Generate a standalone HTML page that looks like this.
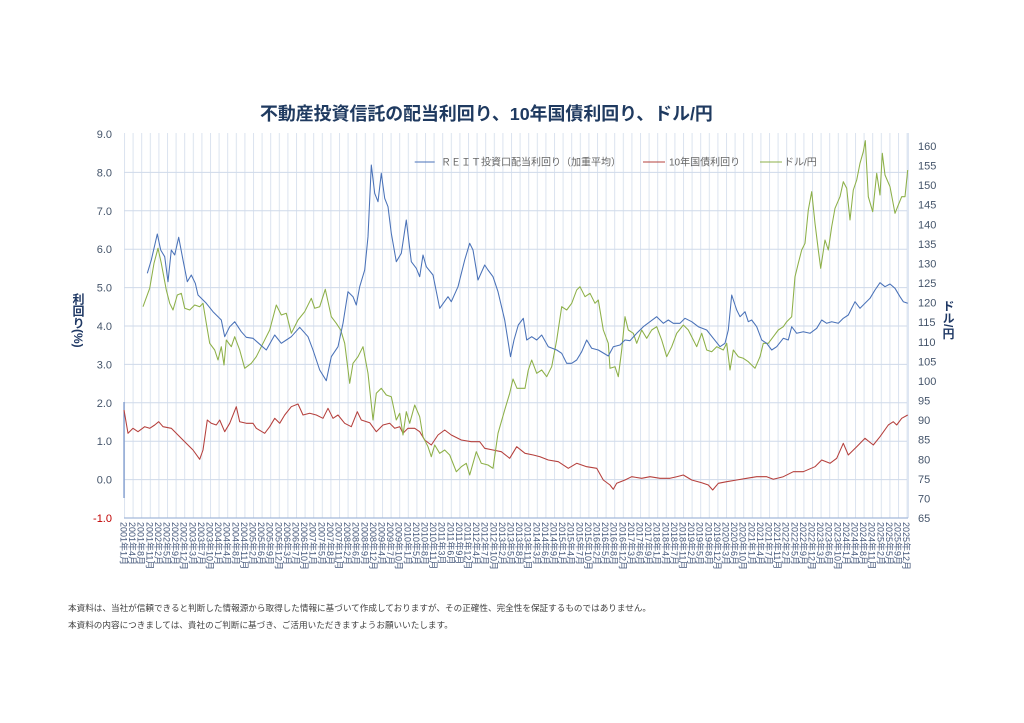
<!DOCTYPE html>
<html><head><meta charset="utf-8">
<style>
html,body{margin:0;padding:0;background:#fff;}
body{width:1024px;height:723px;overflow:hidden;position:relative;font-family:"Liberation Sans","Noto Sans CJK JP",sans-serif;}
svg{position:absolute;left:0;top:0;}
.vt{position:absolute;writing-mode:vertical-rl;font-weight:bold;color:#1f3864;font-size:12px;line-height:12px;font-family:"Liberation Sans","Noto Sans CJK JP",sans-serif;}
</style></head>
<body>
<svg width="1024" height="723" viewBox="0 0 1024 723" xmlns="http://www.w3.org/2000/svg" font-family="Liberation Sans, Noto Sans CJK JP, sans-serif">
<defs>
<pattern id="vg" x="124" y="0" width="8.6" height="10" patternUnits="userSpaceOnUse">
<rect x="0" y="0" width="1" height="10" fill="#dbe3ef"/>
</pattern>
</defs>
<rect width="1024" height="723" fill="#fff"/>
<text x="260" y="120" font-size="17.9" font-weight="bold" fill="#1f3a60">不動産投資信託の配当利回り、10年国債利回り、ドル/円</text>

<rect x="124" y="133" width="783" height="385" fill="url(#vg)"/>
<g stroke="#cfdaea" stroke-width="1">
<line x1="124" y1="172.4" x2="907" y2="172.4"/>
<line x1="124" y1="210.8" x2="907" y2="210.8"/>
<line x1="124" y1="249.2" x2="907" y2="249.2"/>
<line x1="124" y1="287.6" x2="907" y2="287.6"/>
<line x1="124" y1="326" x2="907" y2="326"/>
<line x1="124" y1="364.4" x2="907" y2="364.4"/>
<line x1="124" y1="402.8" x2="907" y2="402.8"/>
<line x1="124" y1="441.2" x2="907" y2="441.2"/>
<line x1="124" y1="479.6" x2="907" y2="479.6"/>
</g>
<line x1="908" y1="133" x2="908" y2="518" stroke="#bccce5" stroke-width="1"/>
<line x1="124" y1="518" x2="908" y2="518" stroke="#a3b9da" stroke-width="1.2"/>
<line x1="124" y1="402" x2="124" y2="498" stroke="#5b7fc0" stroke-width="1"/>

<g font-size="11" fill="#44546a" text-anchor="end">
<text x="112" y="138">9.0</text>
<text x="112" y="176.4">8.0</text>
<text x="112" y="214.8">7.0</text>
<text x="112" y="253.2">6.0</text>
<text x="112" y="291.6">5.0</text>
<text x="112" y="330">4.0</text>
<text x="112" y="368.4">3.0</text>
<text x="112" y="406.8">2.0</text>
<text x="112" y="445.2">1.0</text>
<text x="112" y="483.6">0.0</text>
<text x="112" y="522" fill="#c00000">-1.0</text>
</g>
<g font-size="11" fill="#44546a">
<text x="918" y="150">160</text>
<text x="918" y="169.6">155</text>
<text x="918" y="189.2">150</text>
<text x="918" y="208.7">145</text>
<text x="918" y="228.3">140</text>
<text x="918" y="247.9">135</text>
<text x="918" y="267.5">130</text>
<text x="918" y="287.1">125</text>
<text x="918" y="306.6">120</text>
<text x="918" y="326.2">115</text>
<text x="918" y="345.8">110</text>
<text x="918" y="365.4">105</text>
<text x="918" y="385">100</text>
<text x="918" y="404.5">95</text>
<text x="918" y="424.1">90</text>
<text x="918" y="443.7">85</text>
<text x="918" y="463.3">80</text>
<text x="918" y="482.9">75</text>
<text x="918" y="502.4">70</text>
<text x="918" y="522">65</text>
</g>

<!-- series -->
<polyline fill="none" stroke="#b5403d" stroke-width="1.05" stroke-linejoin="round" points="124,410 128,433.3 133,428.3 138,431.7 144.7,426.7 149.7,428.3 154.7,425 158.7,421.7 163,426.7 171.3,428.3 178,435 184.7,441.7 193,450 199.7,459.3 203,450 207.3,420 211.3,423.3 216.3,425 219.7,420 224.7,431.7 229.7,423.3 236.3,406.7 239.7,421.7 246.3,423.3 253,423.3 256.3,428.3 264.7,433.3 269.7,426.7 274.7,418.3 279.7,423.3 284.7,415 291.3,406.7 298,404 303,415 309.7,413.3 316.3,415 323,418.3 328,408.3 333,418.3 338,415 344.7,423.3 351.3,426.7 357.3,411.7 361.3,420 369.7,422.7 376.3,431.7 383,425 389.7,423.3 394.7,428.3 399.7,426.7 403,433.3 408,428.3 414.7,428.3 419.7,431.7 424.7,440 431.3,445 438,435 444.7,430 451.3,435 461.3,440 471.3,441.7 479.7,441.7 484.7,448.3 493,450 501.3,451.7 509.7,458.3 516.7,446.7 525,453.3 533.3,455 540,456.7 548.3,460 558.3,461.7 568.3,468.3 576.7,463.3 586.7,466.7 596.7,468.3 603.3,480 610,485 613.3,489.3 616.7,483.3 625,480 631.7,476.7 641.7,478.3 650,476.7 660,478.3 670,478.3 676.7,476.7 683.3,475 691.7,480 701.7,482.7 708.3,485 712.7,490 718.3,483.3 726.7,481.7 736.7,480 746.7,478.3 756.7,476.7 766.7,476.7 773.3,479.3 783.3,476.7 793.3,471.7 803.3,471.7 815,466.7 821.7,460 830,463.3 836.7,458.3 843.3,443.3 848.3,455 856.7,446.7 865,438.3 873.3,445 880,436.7 888.3,425 893.3,421.7 896.7,425 901.7,418.3 907.7,415"/>

<polyline fill="none" stroke="#8db048" stroke-width="1.05" stroke-linejoin="round" points="143,306.7 149.7,288.3 154,263.3 158,248.3 161.3,263.3 166.3,290 169.7,303.3 173,310 177.3,295 181.3,293.3 184.7,308.3 189.7,310 194.7,305 199.7,306.7 203,303.3 206.3,323.3 209.7,343.3 214.7,350 218,360 221.3,346.7 224,365 226.3,340 231.3,346.7 234.7,336.7 239.7,350 244.7,368.3 251.3,363.3 256.3,356.7 263,343.3 269.7,330 276.3,305 281.3,315 286.3,313.3 291.3,333.3 298,320 304.7,311.7 311.3,298.3 314.7,308.3 319.7,306.7 325.3,289.3 331.3,316.7 336.3,323.3 340.7,330 344.7,343.3 349.7,383.3 353,363.3 358,356.7 363,346.7 368,373.3 373,420 376.3,393.3 381.3,388.3 386.3,395 391.3,396.7 396.3,420 399.7,413.3 403,435 406.3,411.7 409.7,423.3 414.7,405 419.7,416.7 423,436.7 428,446.7 431.3,456.7 434.7,445 439.7,453.3 444.7,450 449.7,455 456.3,471.7 461.3,466.7 466.3,463.3 469.7,475 476.3,451.7 481.3,463.3 488,465 493,468.3 498,433.3 504.7,410 509.7,393.3 513,379 517,388.3 525,388.3 528.3,370 531.7,360 536.7,373.3 541.7,370 546.7,376.7 551.7,366.7 556.7,340 561.7,306.7 566.7,310 571.7,303.3 576.7,290 580,286.7 585,296.7 590,293.3 595,303.3 598.3,300 603.3,330 608.3,343.3 610,368.3 615,366.7 618.3,376.7 621.7,350 625,316.7 628.3,330 633.3,333.3 636.7,343.3 641.7,330 646.7,338.3 651.7,330 656.7,326.7 661.7,340 666.7,356.7 671.7,346.7 676.7,333.3 683.3,325 688.3,330 691.7,336.7 696.7,346.7 701.7,333.3 706.7,350 711.7,351.7 716.7,346.7 723.3,350 726.7,343.3 730,370 733.3,350 738.3,356.7 743.3,358.3 748.3,361.7 755,368.3 760,356.7 763.3,343.3 768.3,343.3 773.3,336.7 778.3,330 783.3,326.7 786.7,321.7 791.7,316.7 795,276.7 798.3,263.3 801.7,250 805,243.3 808.3,210 811.7,191.7 815,223.3 818.3,250 820.7,268.3 825,240 828.3,250 831.7,226.7 835,208.3 840,196.7 843.3,181.7 846.7,188.3 850,220 853.3,190 856.7,180 860,163.3 863.3,151.7 865.3,140.7 868.3,196.7 872.7,211.7 876.7,173.3 880,195 882.3,153.3 885,175 890,186.7 895,213.3 898.3,205 901.7,196.7 905,196.7 907.7,170"/>

<polyline fill="none" stroke="#4a72b8" stroke-width="1.05" stroke-linejoin="round" points="147.3,273.3 151.3,260 157.3,234 160.7,250 164.7,256.7 168,281.7 171.3,250 174.7,255 178.7,237.3 183,260 187.3,281.7 191.3,275 195.3,283.3 198,295 206.3,303.3 213,311.7 221.3,320 224.7,336.7 229.7,326.7 234.7,321.7 241.3,331.7 246.3,337.3 253,338.3 258,342.7 266.3,350 274.7,335 281.3,343.3 286.3,340 291.3,336.7 299.7,327.3 308,336.7 313,350 319.7,370 326.3,380.7 331.3,356.7 338,346.7 343,323.3 348,291.7 353,296.7 356.3,305 359.7,286.7 364.7,270 368,236.7 371.3,165 374.7,193.3 378,201.7 381.3,173.3 384.7,198.3 388,206.7 391.3,233.3 396.3,261.7 401.3,253.3 406.3,220 411.3,261.7 416.3,268.3 419.7,276.7 423,255 426.3,266.7 433,275 439.7,308.3 448,296.7 451.3,301.7 458,286.7 464.7,260 469.7,243.3 473,250 478,280 484.7,265 488,270 493,276.7 498,291.7 504.7,320 510.5,356.7 514,340 518.3,325 523.3,318.3 526.7,340 531.7,336.7 536.7,340 541.7,335 548.3,346.7 556.7,350 561.7,353.3 566.7,363.3 571.7,363.3 576.7,360 581.7,351.7 586.7,340 591.7,348.3 598.3,350 608.3,356 613.3,346.7 620,345 625,340 630,340.7 636.7,333.3 643.3,326.7 650,321.7 656.7,316.7 663.3,323.3 668.3,320 673.3,323.3 680,323.3 685,318.3 691.7,321.7 698.3,326.7 706.7,330 713.3,338.3 720,346.7 725,343.3 728.3,330 731.7,295 736.7,310 740,316.7 745,311.7 748.3,321.7 751.7,320 756.7,326.7 761.7,340 766.7,343.3 771.7,350 776.7,346.7 783.3,338.3 788.3,340 791.7,326.7 796.7,333.3 803.3,331.7 810,333.3 816.7,328.3 821.7,320 826.7,323.3 831.7,321.7 838.3,323.3 843.3,318.3 848.3,315 855,301.7 860,308.3 865,303.3 870,298.3 875,290 880,282.7 885,286.7 890,284 895,288.3 900,296.7 903.3,301.7 907.7,303.3"/>

<!-- legend -->
<line x1="414.7" y1="162" x2="434.7" y2="162" stroke="#4a72b8" stroke-width="1.1"/>
<text x="441" y="165.5" font-size="10" fill="#666">ＲＥＩＴ投資口配当利回り（加重平均）</text>
<line x1="643" y1="162" x2="665" y2="162" stroke="#b5403d" stroke-width="1.1"/>
<text x="669" y="165.5" font-size="10" fill="#666">10年国債利回り</text>
<line x1="760" y1="162" x2="782" y2="162" stroke="#8db048" stroke-width="1.1"/>
<text x="784" y="165.5" font-size="10" fill="#666">ドル/円</text>

<!-- x labels -->
<g transform="rotate(90)" font-size="9" fill="#44577a">
<text x="522" y="-120.5">2001年1月</text>
<text x="522" y="-129.1">2001年4月</text>
<text x="522" y="-137.7">2001年8月</text>
<text x="522" y="-146.3">2001年11月</text>
<text x="522" y="-154.9">2002年2月</text>
<text x="522" y="-163.5">2002年5月</text>
<text x="522" y="-172.1">2002年9月</text>
<text x="522" y="-180.7">2002年12月</text>
<text x="522" y="-189.3">2003年3月</text>
<text x="522" y="-197.9">2003年7月</text>
<text x="522" y="-206.5">2003年10月</text>
<text x="522" y="-215.1">2004年1月</text>
<text x="522" y="-223.7">2004年4月</text>
<text x="522" y="-232.3">2004年8月</text>
<text x="522" y="-240.9">2004年11月</text>
<text x="522" y="-249.5">2005年2月</text>
<text x="522" y="-258.1">2005年6月</text>
<text x="522" y="-266.7">2005年9月</text>
<text x="522" y="-275.3">2005年12月</text>
<text x="522" y="-283.9">2006年3月</text>
<text x="522" y="-292.5">2006年7月</text>
<text x="522" y="-301.1">2006年10月</text>
<text x="522" y="-309.7">2007年1月</text>
<text x="522" y="-318.3">2007年5月</text>
<text x="522" y="-326.9">2007年8月</text>
<text x="522" y="-335.5">2007年11月</text>
<text x="522" y="-344.1">2008年2月</text>
<text x="522" y="-352.7">2008年6月</text>
<text x="522" y="-361.3">2008年9月</text>
<text x="522" y="-369.9">2008年12月</text>
<text x="522" y="-378.5">2009年4月</text>
<text x="522" y="-387.1">2009年7月</text>
<text x="522" y="-395.7">2009年10月</text>
<text x="522" y="-404.3">2010年1月</text>
<text x="522" y="-412.9">2010年5月</text>
<text x="522" y="-421.5">2010年8月</text>
<text x="522" y="-430.1">2010年11月</text>
<text x="522" y="-438.7">2011年3月</text>
<text x="522" y="-447.3">2011年6月</text>
<text x="522" y="-455.9">2011年9月</text>
<text x="522" y="-464.5">2011年12月</text>
<text x="522" y="-473.1">2012年4月</text>
<text x="522" y="-481.7">2012年7月</text>
<text x="522" y="-490.3">2012年10月</text>
<text x="522" y="-498.9">2013年2月</text>
<text x="522" y="-507.5">2013年5月</text>
<text x="522" y="-516.1">2013年8月</text>
<text x="522" y="-524.7">2013年11月</text>
<text x="522" y="-533.3">2014年3月</text>
<text x="522" y="-541.9">2014年6月</text>
<text x="522" y="-550.5">2014年9月</text>
<text x="522" y="-559.1">2015年1月</text>
<text x="522" y="-567.7">2015年4月</text>
<text x="522" y="-576.3">2015年7月</text>
<text x="522" y="-584.9">2015年10月</text>
<text x="522" y="-593.5">2016年2月</text>
<text x="522" y="-602.1">2016年5月</text>
<text x="522" y="-610.7">2016年8月</text>
<text x="522" y="-619.3">2016年12月</text>
<text x="522" y="-627.9">2017年3月</text>
<text x="522" y="-636.5">2017年6月</text>
<text x="522" y="-645.1">2017年9月</text>
<text x="522" y="-653.7">2018年1月</text>
<text x="522" y="-662.3">2018年4月</text>
<text x="522" y="-670.9">2018年7月</text>
<text x="522" y="-679.5">2018年11月</text>
<text x="522" y="-688.1">2019年2月</text>
<text x="522" y="-696.7">2019年5月</text>
<text x="522" y="-705.3">2019年8月</text>
<text x="522" y="-713.9">2019年12月</text>
<text x="522" y="-722.5">2020年3月</text>
<text x="522" y="-731.1">2020年6月</text>
<text x="522" y="-739.7">2020年10月</text>
<text x="522" y="-748.3">2021年1月</text>
<text x="522" y="-756.9">2021年4月</text>
<text x="522" y="-765.5">2021年7月</text>
<text x="522" y="-774.1">2021年11月</text>
<text x="522" y="-782.7">2022年2月</text>
<text x="522" y="-791.3">2022年5月</text>
<text x="522" y="-799.9">2022年9月</text>
<text x="522" y="-808.5">2022年12月</text>
<text x="522" y="-817.1">2023年3月</text>
<text x="522" y="-825.7">2023年6月</text>
<text x="522" y="-834.3">2023年10月</text>
<text x="522" y="-842.9">2024年1月</text>
<text x="522" y="-851.5">2024年4月</text>
<text x="522" y="-860.1">2024年8月</text>
<text x="522" y="-868.7">2024年11月</text>
<text x="522" y="-877.3">2025年2月</text>
<text x="522" y="-885.9">2025年5月</text>
<text x="522" y="-894.5">2025年9月</text>
<text x="522" y="-903.1">2025年12月</text>
</g>

<g font-size="8.6" fill="#404040">
<text x="68" y="611">本資料は、当社が信頼できると判断した情報源から取得した情報に基づいて作成しておりますが、その正確性、完全性を保証するものではありません。</text>
<text x="68" y="628">本資料の内容につきましては、貴社のご判断に基づき、ご活用いただきますようお願いいたします。</text>
</g>
</svg>
<div class="vt" style="left:72px;top:293px;">利回り(%)</div>
<div class="vt" style="left:942px;top:300px;">ドル/円</div>
</body></html>
